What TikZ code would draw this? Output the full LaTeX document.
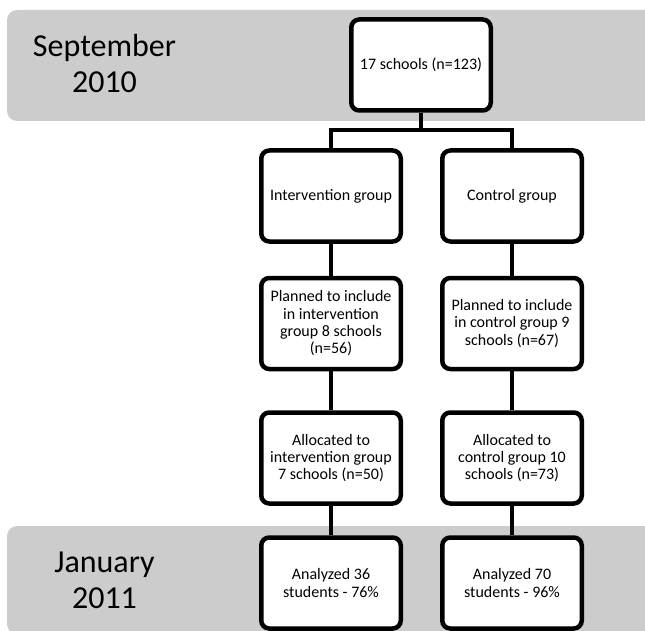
\documentclass[tikz,border=0pt]{standalone}
\usepackage{fontspec}
\setmainfont{Carlito}
\usepackage{tikz}
\definecolor{bandgray}{RGB}{204,204,204}

\begin{document}
\begin{tikzpicture}
					[x=1pt,y=-1pt,
					stage/.style={rectangle,rounded corners=8pt,minimum width=139.5pt,minimum height=91pt,inner sep=0pt,draw=black,fill=white,line width=4.5pt,align=center,font=\fontsize{16}{17.3}\selectfont},
					period/.style={align=center,font=\fontsize{32}{36}\selectfont},
					link/.style={line width=4.5pt}]
					\useasboundingbox (0,0) rectangle (645,631);
					\fill[bandgray,rounded corners=10pt] (7,10) rectangle (700,121);
					\fill[bandgray,rounded corners=10pt] (7,526) rectangle (700,634);
					\node[period] (sep) at (104.5,64) {September\\2010};
					\node[period] (jan) at (104.5,580) {January\\2011};
					\node[stage] (all) at (421,65) {17 schools (n=123)};
					\node[stage] (ig) at (331,196) {Intervention group};
					\node[stage] (cg) at (512,196) {Control group};
					\node[stage] (ip) at (331,323.5) {Planned to include\\in intervention\\group 8 schools\\(n=56)};
					\node[stage] (cp) at (512,323.5) {Planned to include\\in control group 9\\schools (n=67)};
					\node[stage] (ia) at (331,458) {Allocated to\\intervention group\\7 schools (n=50)};
					\node[stage] (ca) at (512,458) {Allocated to\\control group 10\\schools (n=73)};
					\node[stage] (ir) at (331,583) {Analyzed 36\\students - 76\%};
					\node[stage] (cr) at (512,583) {Analyzed 70\\students - 96\%};
					\coordinate (split) at (421,130);
					\draw[link] (all.south) -- (split);
					\draw[link] (ig.north) |- (split) -| (cg.north);
					\path (ig.south) edge[link] (ip.north);
					\path (cg.south) edge[link] (cp.north);
					\path (ip.south) edge[link] (ia.north);
					\path (cp.south) edge[link] (ca.north);
					\path (ia.south) edge[link] (ir.north);
					\path (ca.south) edge[link] (cr.north);
				\end{tikzpicture}
\end{document}
